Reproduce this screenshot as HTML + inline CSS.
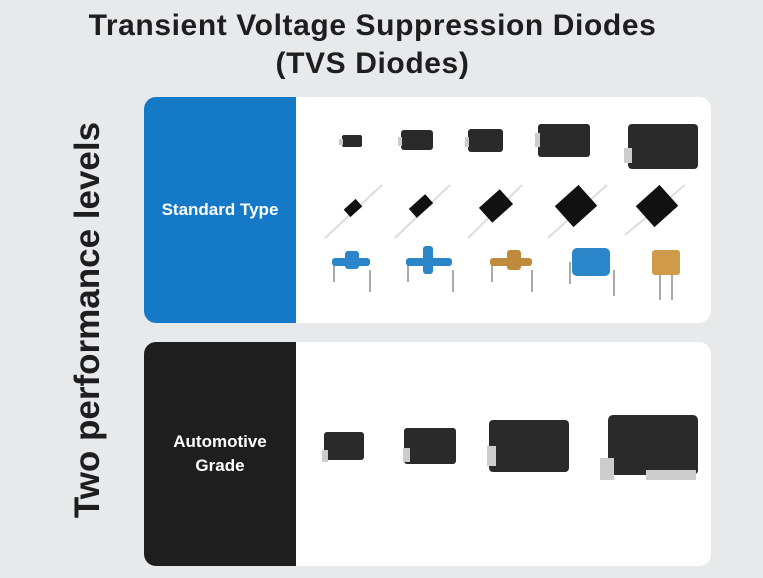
<!DOCTYPE html>
<html><head><meta charset="utf-8"><style>
body{margin:0;width:763px;height:578px;background:#e8e9eb;position:relative;overflow:hidden;font-family:"Liberation Sans",sans-serif}
.t{position:absolute;left:0;width:745px;text-align:center;font-weight:bold;font-size:30px;letter-spacing:0.6px;color:#1e1e1e}
.side{position:absolute;left:88px;top:320px;transform:translate(-50%,-50%) rotate(-90deg);white-space:nowrap;font-weight:bold;font-size:35px;color:#1e1e1e}
.p{position:absolute;left:144px;width:567px;background:#fff;border-radius:12px;overflow:hidden}
.l{position:absolute;left:0;top:0;bottom:0;width:152px;display:flex;align-items:center;justify-content:center;text-align:center;color:#fff;font-weight:bold;font-size:17px;line-height:24px}
svg{position:absolute;left:0;top:0}
</style></head><body>
<div class="t" style="top:9px">Transient Voltage Suppression Diodes</div>
<div class="t" style="top:47px">(TVS Diodes)</div>
<div class="side">Two performance levels</div>
<div class="p" style="top:97px;height:226px"><div class="l" style="background:#1479c6">Standard Type</div></div>
<div class="p" style="top:342px;height:224px"><div class="l" style="background:#1e1e1e">Automotive<br>Grade</div></div>
<svg width="763" height="578">
<g fill="#2a2a2a">
<rect x="342" y="135" width="20" height="12" rx="2"/>
<rect x="401" y="130" width="32" height="20" rx="3"/>
<rect x="468" y="129" width="35" height="23" rx="3"/>
<rect x="538" y="124" width="52" height="33" rx="3"/>
<rect x="628" y="124" width="70" height="45" rx="4"/>
</g>
<g fill="#ccc"><rect x="339" y="139" width="4" height="6"/><rect x="398" y="137" width="4" height="9"/><rect x="465" y="137" width="4" height="10"/><rect x="535" y="133" width="5" height="14"/><rect x="624" y="148" width="8" height="15"/></g>
<g stroke="#ddd" stroke-width="2">
<line x1="325" y1="238" x2="382" y2="185"/><line x1="395" y1="238" x2="450" y2="185"/><line x1="468" y1="238" x2="522" y2="185"/><line x1="548" y1="238" x2="607" y2="185"/><line x1="625" y1="235" x2="685" y2="185"/></g>
<g fill="#111">
<rect x="345" y="203" width="16" height="10" transform="rotate(-42 353 208)"/>
<rect x="410" y="200" width="22" height="12" transform="rotate(-42 421 206)"/>
<rect x="482" y="196" width="28" height="20" transform="rotate(-42 496 206)"/>
<rect x="560" y="192" width="32" height="28" transform="rotate(-42 576 206)"/>
<rect x="641" y="192" width="32" height="28" transform="rotate(-42 657 206)"/>
</g>
<g stroke="#aaa" stroke-width="2"><line x1="334" y1="262" x2="334" y2="282"/><line x1="370" y1="270" x2="370" y2="292"/><line x1="408" y1="262" x2="408" y2="282"/><line x1="453" y1="270" x2="453" y2="292"/><line x1="492" y1="262" x2="492" y2="282"/><line x1="532" y1="270" x2="532" y2="292"/><line x1="570" y1="262" x2="570" y2="284"/><line x1="614" y1="270" x2="614" y2="296"/><line x1="660" y1="270" x2="660" y2="300"/><line x1="672" y1="270" x2="672" y2="300"/></g>
<g fill="#2a86c8"><rect x="332" y="258" width="38" height="8" rx="3"/><rect x="345" y="251" width="14" height="18" rx="3"/><rect x="406" y="258" width="46" height="8" rx="3"/><rect x="423" y="246" width="10" height="28" rx="3"/><rect x="572" y="248" width="38" height="28" rx="5"/></g>
<g fill="#c08a3c"><rect x="490" y="258" width="42" height="8" rx="3"/><rect x="507" y="250" width="14" height="20" rx="3"/><rect x="652" y="250" width="28" height="25" rx="3" fill="#cf9a4a"/></g>
<g fill="#2a2a2a"><rect x="324" y="432" width="40" height="28" rx="3"/><rect x="404" y="428" width="52" height="36" rx="3"/><rect x="489" y="420" width="80" height="52" rx="4"/><rect x="608" y="415" width="90" height="60" rx="5"/></g>
<g fill="#ccc"><rect x="322" y="450" width="6" height="12"/><rect x="403" y="448" width="7" height="14"/><rect x="487" y="446" width="9" height="20"/><rect x="600" y="458" width="14" height="22"/><rect x="646" y="470" width="50" height="10"/></g>
</svg>
</body></html>
